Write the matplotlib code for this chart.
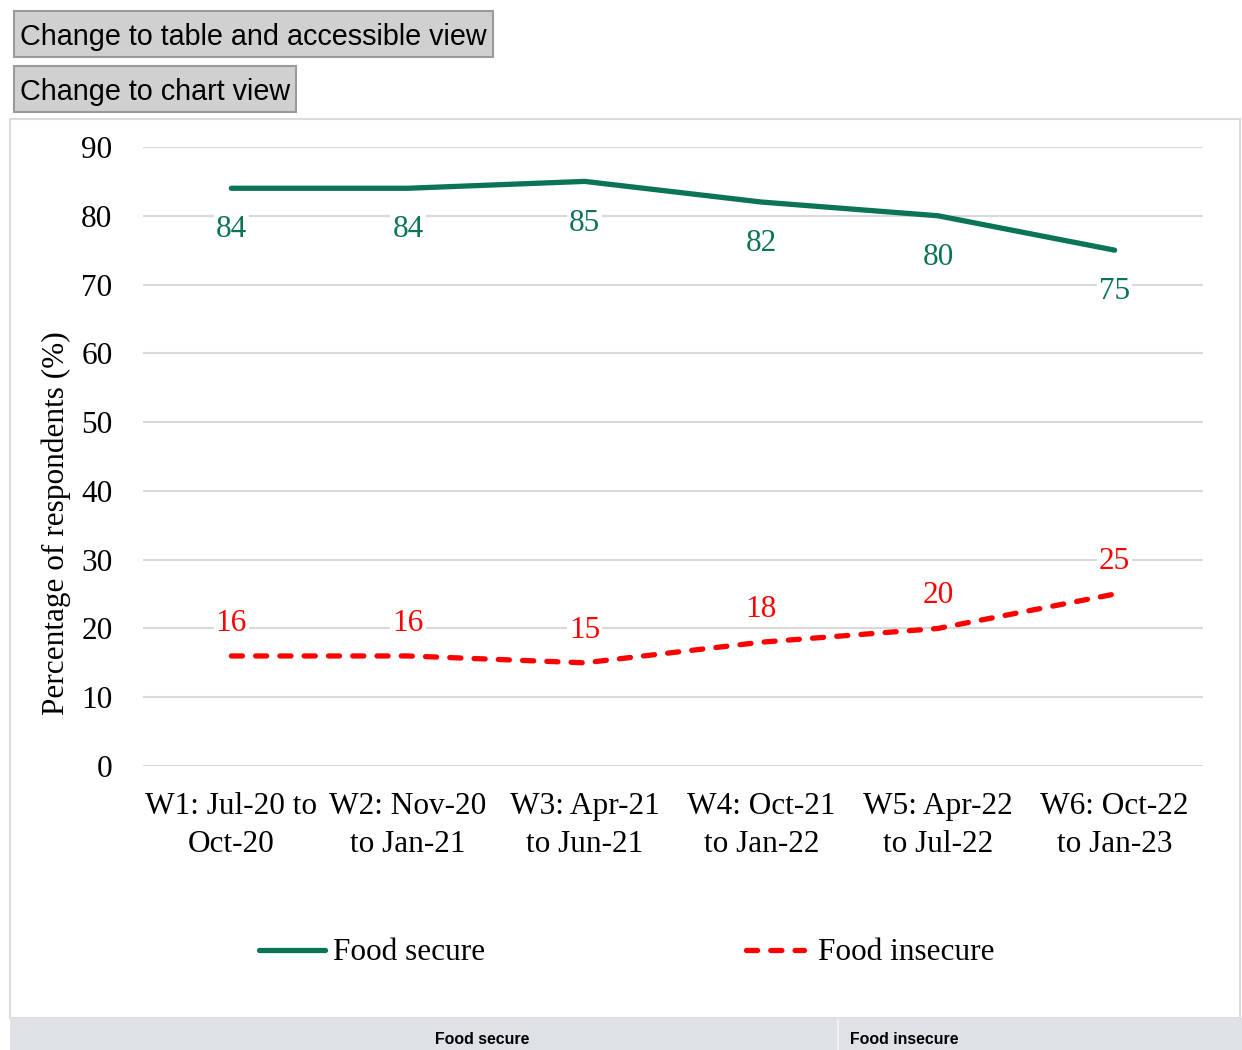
import matplotlib
matplotlib.use("Agg")
import matplotlib.pyplot as plt
from matplotlib.patches import Rectangle
import numpy as np

categories = ["W1: Jul-20 to\nOct-20", "W2: Nov-20\nto Jan-21", "W3: Apr-21\nto Jun-21",
              "W4: Oct-21\nto Jan-22", "W5: Apr-22\nto Jul-22", "W6: Oct-22\nto Jan-23"]
food_secure = [84, 84, 85, 82, 80, 75]
food_insecure = [16, 16, 15, 18, 20, 25]
yticks = [0, 10, 20, 30, 40, 50, 60, 70, 80, 90]

GREEN = "#0b7356"
RED = "#ff0000"
SERIF = ["Liberation Serif", "DejaVu Serif"]
SANS = ["Liberation Sans", "DejaVu Sans"]
FS = 22.5
LW = 3.8
DASH = (0, (2.1, 2.5))

W, H = 1242, 1050
fig = plt.figure(figsize=(W / 100, H / 100), dpi=100)

def fx(px):
    return px / W

def fy(py):
    return 1 - py / H

# container border
fig.patches.append(Rectangle((fx(10), fy(1018)), fx(1240) - fx(10), fy(119) - fy(1018),
                             transform=fig.transFigure, facecolor="white",
                             edgecolor="#dcdcdc", lw=1.5, zorder=-5))

# buttons
def button(x0, y0, x1, y1, text):
    fig.patches.append(Rectangle((fx(x0), fy(y1)), fx(x1) - fx(x0), fy(y0) - fy(y1),
                                 transform=fig.transFigure, facecolor="#d0d0d0",
                                 edgecolor="#9a9a9a", lw=1.5, zorder=1))
    fig.text(fx(x0 + 6), fy((y0 + y1) / 2 + 3), text, ha="left", va="center",
             fontsize=20.7, family=SANS, color="black")

button(14, 11, 493, 57, "Change to table and accessible view")
button(14, 66, 296, 112, "Change to chart view")

# bottom table header band
fig.patches.append(Rectangle((fx(10), 0), fx(1242) - fx(10), fy(1018),
                             transform=fig.transFigure, facecolor="#dee2e6",
                             edgecolor="none", zorder=1))
fig.lines.append(plt.Line2D([fx(838), fx(838)], [0, fy(1020)], transform=fig.transFigure,
                            color="#eef0f2", lw=1.5))
fig.text(fx(482), fy(1040), "Food secure", ha="center", va="center", fontsize=11.4,
         family=SANS, weight="bold")
fig.text(fx(850), fy(1040), "Food insecure", ha="left", va="center", fontsize=11.4,
         family=SANS, weight="bold")

# axes
ax = fig.add_axes([fx(143), fy(766), fx(1203) - fx(143), fy(147) - fy(766)])
ax.set_zorder(2)
ax.set_facecolor("none")
n = len(categories)
x = np.arange(n)
ax.set_xlim(-0.5, n - 0.5)
ax.set_ylim(0, 90)
ax.set_yticks(yticks)
ax.set_yticklabels([str(v) for v in yticks], family=SERIF, fontsize=FS)
ax.set_xticks(x)
ax.set_xticklabels(categories, family=SERIF, fontsize=FS, linespacing=1.41)
ax.tick_params(axis="y", length=0, pad=22)
ax.tick_params(axis="x", length=0, pad=19)
for s in ax.spines.values():
    s.set_visible(False)
ax.grid(axis="y", color="#d9d9d9", lw=1.5)
ax.set_axisbelow(True)

ax.plot(x, food_secure, color=GREEN, lw=LW, solid_capstyle="round",
        solid_joinstyle="round", zorder=3)
ax.plot(x, food_insecure, color=RED, lw=LW, linestyle=DASH, dash_capstyle="round",
        dash_joinstyle="round", zorder=3)

bbox = dict(facecolor="white", edgecolor="none", pad=1.5)
for xi, v in zip(x, food_secure):
    ax.annotate(str(v), (xi, v), xytext=(0, -30), textcoords="offset points",
                ha="center", va="center", fontsize=FS, family=SERIF, color=GREEN,
                bbox=bbox, zorder=4)
for xi, v in zip(x, food_insecure):
    ax.annotate(str(v), (xi, v), xytext=(0, 23.5), textcoords="offset points",
                ha="center", va="center", fontsize=FS, family=SERIF, color=RED,
                bbox=bbox, zorder=4)

# y label
fig.text(fx(56), fy(523), "Percentage of respondents (%)", rotation=90, ha="center",
         va="center", fontsize=FS, family=SERIF)

# legend
fig.lines.append(plt.Line2D([fx(259), fx(325)], [fy(950), fy(950)], transform=fig.transFigure,
                            color=GREEN, lw=LW, solid_capstyle="round"))
fig.text(fx(333), fy(953), "Food secure", ha="left", va="center", fontsize=FS, family=SERIF)
fig.lines.append(plt.Line2D([fx(746), fx(804)], [fy(950), fy(950)], transform=fig.transFigure,
                            color=RED, lw=LW, linestyle=DASH, dash_capstyle="round"))
fig.text(fx(818), fy(953), "Food insecure", ha="left", va="center", fontsize=FS, family=SERIF)

fig.savefig("out.png", dpi=100)
